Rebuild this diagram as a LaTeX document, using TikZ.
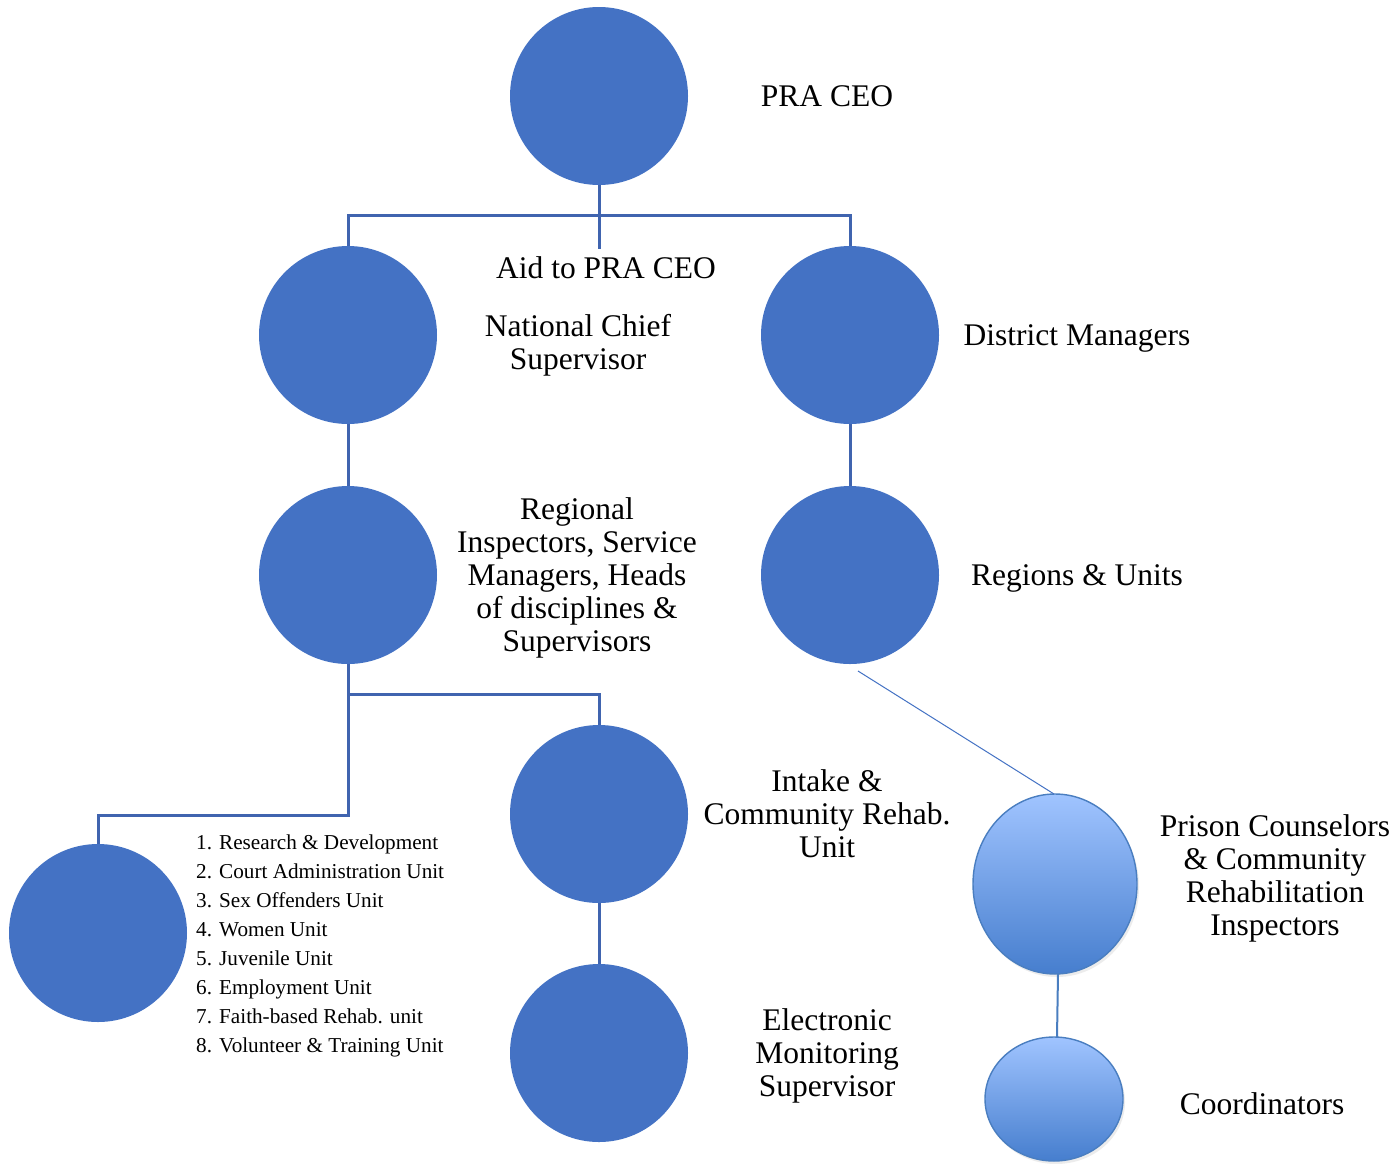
\documentclass[tikz,border=0pt]{standalone}
\usepackage{fontspec}
\setmainfont{Liberation Serif}
\usetikzlibrary{shadows}
\definecolor{unitblue}{RGB}{68,114,196}
\definecolor{linkblue}{RGB}{64,100,175}
\definecolor{lighttop}{RGB}{160,196,255}
\definecolor{lightbot}{RGB}{70,126,206}
\definecolor{rimblue}{RGB}{74,126,192}
\tikzset{
  unit/.style={circle, fill=unitblue, minimum size=178pt, inner sep=0pt},
  softunit/.style={draw=rimblue, line width=1.4pt,
    top color=lighttop, bottom color=lightbot,
    drop shadow={shadow xshift=2pt, shadow yshift=-3pt, opacity=0.15}},
  lbl/.style={align=center, font=\fontsize{31.5}{33}\selectfont, inner sep=0pt},
  link/.style={draw=linkblue, line width=3pt},
  thinlink/.style={draw=unitblue, line width=1pt},
}
\begin{document}
\begin{tikzpicture}[x=1pt,y=-1pt]
\useasboundingbox (0,0) rectangle (1397,1163);
\fill[white] (0,0) rectangle (1397,1163);

% circles
\node[unit] (ceo) at (599,96) {};
\node[unit] (ncs) at (348,335) {};
\node[unit] (dm)  at (850,335) {};
\node[unit] (reg) at (348,575) {};
\node[unit] (ru)  at (850,575) {};
\node[unit] (int) at (599,814) {};
\node[unit] (em)  at (599,1053) {};
\node[unit] (lst) at (98,933) {};

% lighter, shaded circles
\path[softunit] (1055,884) ellipse [x radius=82, y radius=90];
\path[softunit] (1054,1099) ellipse [x radius=69, y radius=62];
\coordinate (pcN) at (1054,794);
\coordinate (pcS) at (1058,974);
\coordinate (coN) at (1057,1037);

% labels
\node[lbl] (lceo) at (827,96) {PRA CEO};
\node[lbl] (aid)  at (606,268) {Aid to PRA CEO};
\node[lbl] (lncs) at (578,345) {National Chief\\Supervisor};
\node[lbl] (ldm)  at (1077,338) {District Managers};
\node[lbl] (lreg) at (577,578) {Regional\\Inspectors, Service\\Managers, Heads\\of disciplines \&\\Supervisors};
\node[lbl] (lru)  at (1077,578) {Regions \& Units};
\node[lbl] (lint) at (827,814) {Intake \&\\Community Rehab.\\Unit};
\node[lbl] (lem)  at (827,1056) {Electronic\\Monitoring\\Supervisor};
\node[lbl] (lpc)  at (1275,878) {Prison Counselors\\\& Community\\Rehabilitation\\Inspectors};
\node[lbl] (lco)  at (1262,1104) {Coordinators};
\node[align=left, anchor=west, inner sep=0pt, font=\fontsize{21.2}{29}\selectfont] (units) at (196,946)
  {1. Research \& Development\\
   2. Court Administration Unit\\
   3. Sex Offenders Unit\\
   4. Women Unit\\
   5. Juvenile Unit\\
   6. Employment Unit\\
   7. Faith-based Rehab. unit\\
   8. Volunteer \& Training Unit};

% connectors
\coordinate (bus1) at (599,215);
\coordinate (aidtop) at (599,249);
\coordinate (bus2) at (348,694);
\coordinate (elbow) at (348,815);
\draw[link] (ceo.south) -- (aidtop);
\draw[link] (ncs.north) -- (ncs.north |- bus1) -- (dm.north |- bus1) -- (dm.north);
\draw[link] (ncs.south) -- (reg.north);
\draw[link] (dm.south) -- (ru.north);
\draw[link] (reg.south) -- (elbow) -| (lst.north);
\draw[link] (bus2) -| (int.north);
\draw[link] (int.south) -- (em.north);
\draw[thinlink] (858,671) -- (pcN);
\draw[draw=rimblue, line width=2pt] (pcS) -- (coN);
\end{tikzpicture}
\end{document}
